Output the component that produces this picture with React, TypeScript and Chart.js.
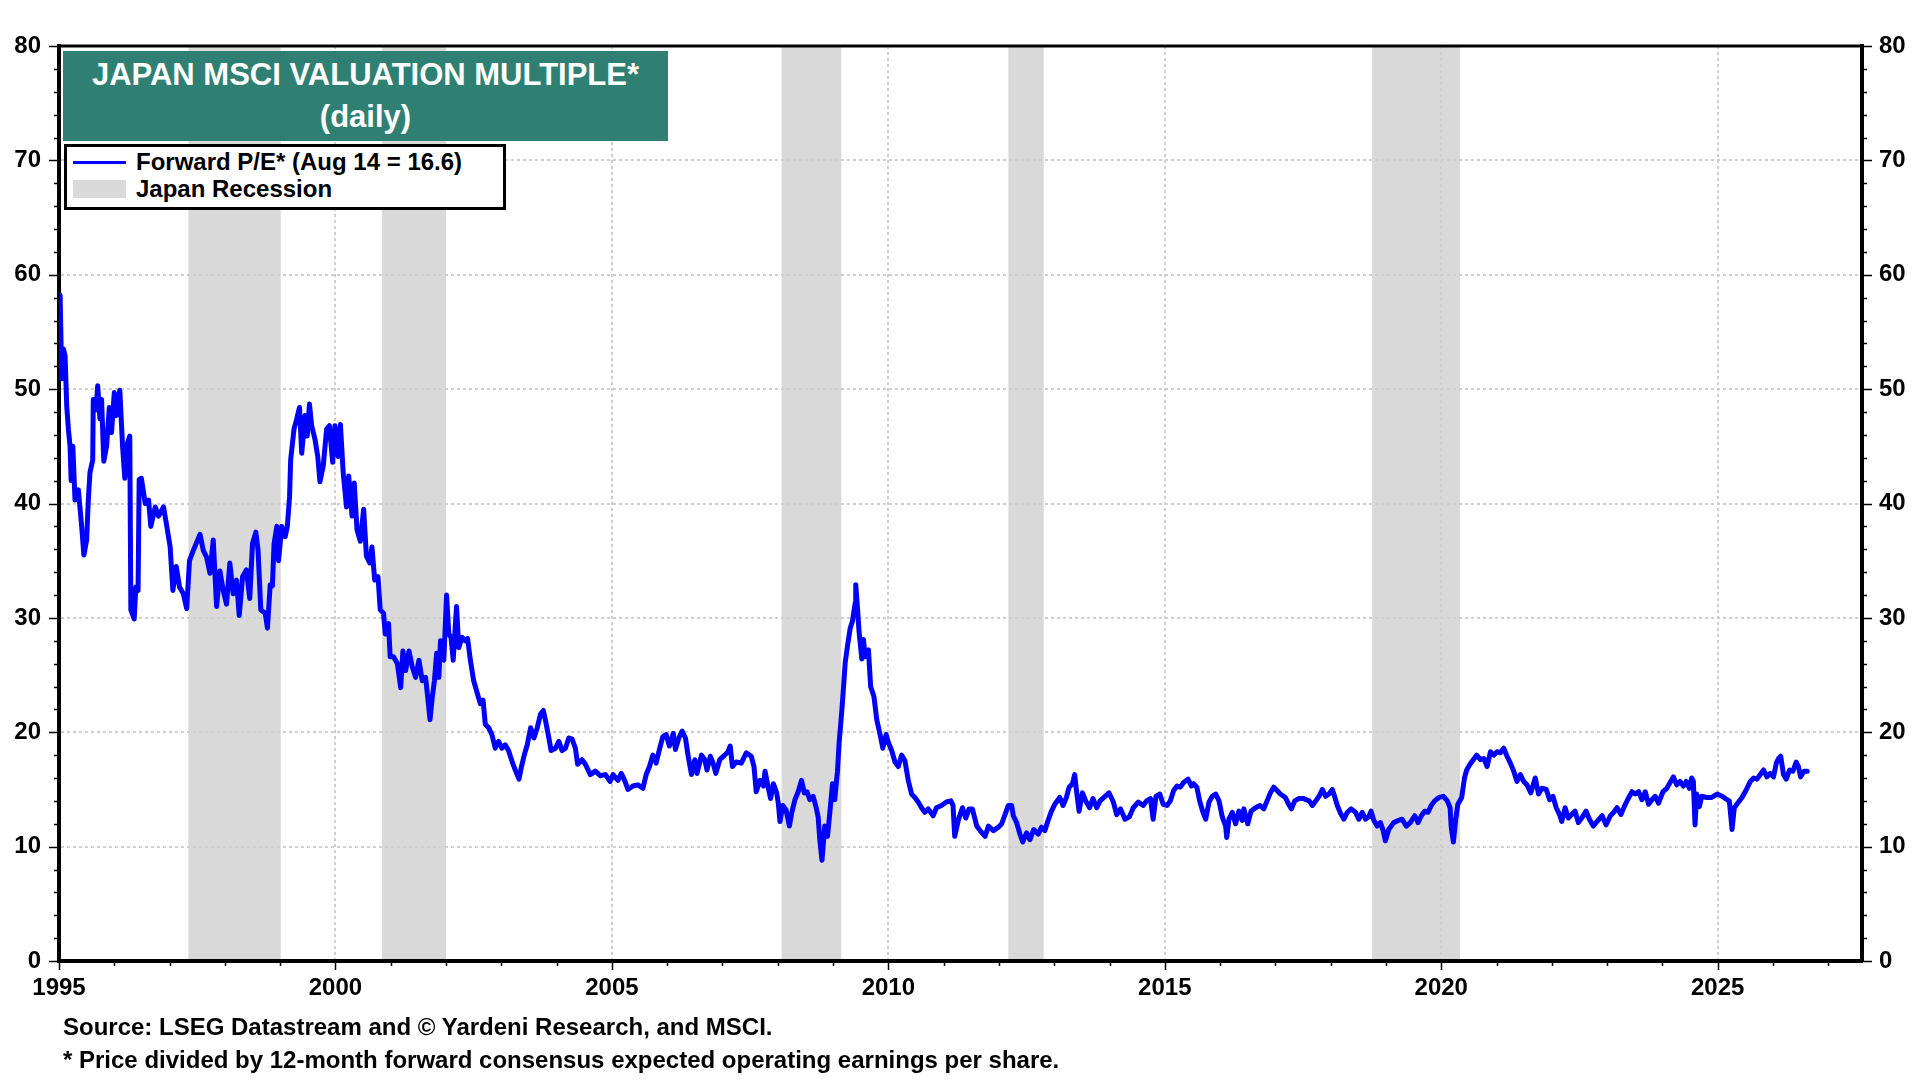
import React, { useEffect, useRef } from "react";
import { Chart, registerables } from "chart.js";

Chart.register(...registerables);

// ---- Data (decimal year, forward P/E) ----
const dates: number[] = [
  // 1995 - 2000
  1995.02, 1995.05, 1995.08, 1995.11, 1995.14, 1995.17, 1995.20, 1995.22, 1995.25, 1995.29,
  1995.35, 1995.41, 1995.45, 1995.50, 1995.53, 1995.56, 1995.61, 1995.62, 1995.67, 1995.70,
  1995.74, 1995.77, 1995.81, 1995.86, 1995.91, 1995.95, 1996.00, 1996.04, 1996.10, 1996.15,
  1996.19, 1996.24, 1996.28, 1996.30, 1996.36, 1996.39, 1996.43, 1996.45, 1996.49, 1996.56,
  1996.62, 1996.66, 1996.74, 1996.80, 1996.89, 1996.95, 1997.01, 1997.06, 1997.12, 1997.18,
  1997.25, 1997.31, 1997.36, 1997.43, 1997.55, 1997.61, 1997.67, 1997.73, 1997.79, 1997.85,
  1997.91, 1997.97, 1998.03, 1998.09, 1998.15, 1998.21, 1998.26, 1998.32, 1998.39, 1998.45,
  1998.50, 1998.56, 1998.60, 1998.65, 1998.73, 1998.77, 1998.82, 1998.86, 1998.89, 1998.94,
  1998.97, 1999.03, 1999.09, 1999.13, 1999.17, 1999.19, 1999.25, 1999.30, 1999.35, 1999.39,
  1999.45, 1999.49, 1999.53, 1999.57, 1999.63, 1999.68, 1999.72, 1999.78, 1999.84, 1999.89,
  1999.95, 1999.99, 2000.05, 2000.09, 2000.14,
  // 2000 - 2005
  2000.20, 2000.24, 2000.30, 2000.34, 2000.39, 2000.45, 2000.51, 2000.56, 2000.62, 2000.66,
  2000.71, 2000.77, 2000.81, 2000.87, 2000.90, 2000.96, 2000.99, 2001.05, 2001.12, 2001.18,
  2001.22, 2001.27, 2001.33, 2001.39, 2001.45, 2001.51, 2001.57, 2001.63, 2001.67, 2001.71,
  2001.75, 2001.79, 2001.83, 2001.87, 2001.90, 2001.96, 2002.01, 2002.05, 2002.09, 2002.13,
  2002.19, 2002.23, 2002.29, 2002.35, 2002.39, 2002.44, 2002.50, 2002.56, 2002.62, 2002.67,
  2002.71, 2002.77, 2002.83, 2002.89, 2002.95, 2003.01, 2003.07, 2003.13, 2003.19, 2003.26,
  2003.32, 2003.36, 2003.42, 2003.47, 2003.53, 2003.59, 2003.65, 2003.71, 2003.76, 2003.80,
  2003.86, 2003.90, 2003.98, 2004.04, 2004.10, 2004.16, 2004.22, 2004.28, 2004.34, 2004.38,
  2004.46, 2004.52, 2004.61, 2004.70, 2004.79, 2004.88, 2004.97,
  // 2005 - 2010
  2005.02, 2005.11, 2005.17, 2005.23, 2005.29, 2005.38, 2005.47, 2005.56, 2005.62, 2005.68,
  2005.74, 2005.80, 2005.86, 2005.92, 2005.98, 2006.04, 2006.11, 2006.15, 2006.21, 2006.27,
  2006.33, 2006.38, 2006.44, 2006.50, 2006.54, 2006.62, 2006.68, 2006.72, 2006.78, 2006.83,
  2006.88, 2006.95, 2007.04, 2007.10, 2007.14, 2007.18, 2007.25, 2007.34, 2007.43, 2007.52,
  2007.57, 2007.61, 2007.68, 2007.74, 2007.77, 2007.83, 2007.87, 2007.92, 2007.98, 2008.01,
  2008.04, 2008.09, 2008.15, 2008.21, 2008.25, 2008.31, 2008.37, 2008.43, 2008.48, 2008.53,
  2008.58, 2008.64, 2008.69, 2008.73, 2008.76, 2008.80, 2008.85, 2008.90, 2008.94, 2008.99,
  2009.03, 2009.08, 2009.11, 2009.14, 2009.17, 2009.22, 2009.26, 2009.31, 2009.35, 2009.40,
  2009.41, 2009.44, 2009.47, 2009.52, 2009.55, 2009.58, 2009.64, 2009.68, 2009.74, 2009.79,
  2009.85, 2009.90, 2009.96,
  // 2010 - 2015
  2010.00, 2010.06, 2010.12, 2010.18, 2010.24, 2010.30, 2010.36, 2010.42, 2010.48, 2010.54,
  2010.60, 2010.66, 2010.72, 2010.81, 2010.87, 2010.96, 2011.05, 2011.13, 2011.17, 2011.20,
  2011.27, 2011.34, 2011.40, 2011.46, 2011.52, 2011.60, 2011.66, 2011.75, 2011.81, 2011.90,
  2011.99, 2012.05, 2012.11, 2012.17, 2012.23, 2012.26, 2012.32, 2012.38, 2012.43, 2012.50,
  2012.56, 2012.63, 2012.71, 2012.77, 2012.83, 2012.89, 2012.95, 2013.01, 2013.10, 2013.16,
  2013.22, 2013.27, 2013.33, 2013.37, 2013.40, 2013.45, 2013.51, 2013.57, 2013.64, 2013.70,
  2013.77, 2013.83, 2013.92, 2013.99, 2014.07, 2014.13, 2014.20, 2014.28, 2014.36, 2014.43,
  2014.52, 2014.61, 2014.67, 2014.74, 2014.79, 2014.84, 2014.91, 2014.97,
  // 2015 - 2020
  2015.04, 2015.10, 2015.16, 2015.22, 2015.28, 2015.34, 2015.42, 2015.48, 2015.52, 2015.58,
  2015.63, 2015.69, 2015.74, 2015.80, 2015.86, 2015.92, 2015.98, 2016.04, 2016.10, 2016.12,
  2016.16, 2016.22, 2016.28, 2016.34, 2016.40, 2016.43, 2016.50, 2016.56, 2016.64, 2016.72,
  2016.79, 2016.85, 2016.91, 2016.97, 2017.03, 2017.09, 2017.18, 2017.24, 2017.29, 2017.35,
  2017.42, 2017.51, 2017.61, 2017.67, 2017.73, 2017.79, 2017.85, 2017.91, 2017.97, 2018.03,
  2018.07, 2018.12, 2018.18, 2018.24, 2018.30, 2018.37, 2018.45, 2018.51, 2018.57, 2018.63,
  2018.69, 2018.73, 2018.78, 2018.84, 2018.90, 2018.95, 2018.99, 2019.05, 2019.14, 2019.23,
  2019.29, 2019.37, 2019.44, 2019.52, 2019.58, 2019.64, 2019.70, 2019.76, 2019.82, 2019.88,
  2019.96, 2020.04, 2020.11, 2020.16, 2020.18, 2020.22, 2020.26, 2020.30,
  // 2020 - 2026
  2020.37, 2020.42, 2020.46, 2020.52, 2020.58, 2020.64, 2020.71, 2020.77, 2020.83, 2020.89,
  2020.95, 2021.01, 2021.07, 2021.13, 2021.19, 2021.25, 2021.31, 2021.37, 2021.43, 2021.49,
  2021.55, 2021.62, 2021.70, 2021.76, 2021.82, 2021.90, 2021.96, 2022.02, 2022.08, 2022.14,
  2022.18, 2022.24, 2022.30, 2022.36, 2022.42, 2022.48, 2022.54, 2022.62, 2022.68, 2022.75,
  2022.82, 2022.91, 2022.98, 2023.06, 2023.12, 2023.18, 2023.25, 2023.31, 2023.37, 2023.45,
  2023.51, 2023.57, 2023.63, 2023.69, 2023.75, 2023.81, 2023.87, 2023.93, 2024.01, 2024.08,
  2024.14, 2024.20, 2024.26, 2024.32, 2024.38, 2024.43, 2024.49, 2024.53, 2024.56, 2024.59,
  2024.62, 2024.67, 2024.71, 2024.80, 2024.89, 2024.99, 2025.08, 2025.17, 2025.21, 2025.26,
  2025.30, 2025.36, 2025.44, 2025.52, 2025.59, 2025.65, 2025.71, 2025.77, 2025.83, 2025.89,
  2025.95, 2026.01, 2026.06, 2026.10, 2026.14, 2026.19, 2026.24, 2026.30, 2026.36, 2026.42,
  2026.46, 2026.50, 2026.56, 2026.62,
];

const forwardPE: number[] = [
  // 1995 - 2000
  58.2, 50.9, 53.5, 52.9, 48.5, 46.5, 45.0, 42.0, 45.0, 40.3,
  41.2, 38.0, 35.5, 36.8, 40.3, 42.7, 43.8, 49.1, 48.2, 50.3,
  47.4, 49.1, 43.7, 45.0, 48.4, 46.2, 49.7, 47.7, 49.9, 45.0,
  42.2, 45.3, 45.9, 30.7, 29.9, 32.7, 32.4, 42.1, 42.2, 40.0,
  40.3, 38.0, 39.7, 38.9, 39.7, 38.0, 36.2, 32.4, 34.5, 32.7,
  32.1, 30.8, 35.0, 35.9, 37.3, 35.9, 35.3, 33.9, 36.8, 31.0,
  34.1, 32.4, 31.2, 34.8, 32.1, 33.3, 30.2, 33.6, 34.2, 31.7,
  36.5, 37.5, 35.9, 30.7, 30.4, 29.1, 32.9, 32.8, 36.5, 38.0,
  35.0, 38.0, 37.1, 38.0, 40.6, 43.8, 46.5, 47.4, 48.4, 44.4,
  47.7, 45.9, 48.7, 46.8, 45.6, 44.1, 41.9, 43.3, 46.5, 46.8,
  43.6, 46.8, 44.1, 46.9, 42.7,
  // 2000 - 2005
  39.7, 42.4, 38.9, 41.8, 37.7, 36.7, 39.5, 35.4, 34.8, 36.2,
  33.3, 33.6, 30.7, 30.4, 28.6, 29.5, 26.6, 26.6, 26.0, 23.9,
  27.1, 25.4, 27.1, 25.7, 24.8, 26.3, 24.5, 24.8, 23.0, 21.1,
  23.0, 24.5, 26.9, 24.8, 28.0, 26.3, 32.0, 28.6, 28.3, 26.3,
  31.0, 27.4, 28.3, 28.0, 28.2, 26.3, 24.5, 23.5, 22.5, 22.8,
  20.7, 20.4, 19.8, 18.6, 19.2, 18.6, 18.9, 18.4, 17.5, 16.6,
  15.9, 16.9, 18.1, 18.9, 20.4, 19.5, 20.4, 21.6, 21.9, 21.0,
  19.5, 18.4, 18.6, 19.2, 18.4, 18.6, 19.5, 19.4, 18.6, 17.2,
  17.6, 17.2, 16.3, 16.6, 16.2, 16.3, 15.7,
  // 2005 - 2010
  16.3, 15.8, 16.4, 15.8, 15.0, 15.3, 15.4, 15.1, 16.3, 17.0,
  18.0, 17.3, 18.5, 19.6, 19.8, 18.8, 19.9, 18.5, 19.5, 20.1,
  19.5, 17.9, 16.3, 17.6, 16.4, 18.0, 17.6, 16.7, 17.9, 17.3,
  16.4, 17.6, 18.0, 18.3, 18.8, 17.0, 17.4, 17.3, 18.2, 17.9,
  17.0, 14.8, 15.8, 15.3, 16.6, 15.1, 14.2, 15.5, 14.7, 13.8,
  12.2, 13.6, 13.2, 11.8, 12.9, 14.1, 14.8, 15.8, 14.7, 14.8,
  14.1, 14.4, 13.5, 12.6, 10.6, 8.8, 11.8, 10.9, 12.9, 15.5,
  14.1, 16.6, 19.1, 20.8, 22.6, 26.1, 27.5, 29.1, 29.7, 31.3,
  32.9, 31.0, 28.8, 26.4, 28.1, 26.6, 27.2, 24.0, 23.1, 21.1,
  19.8, 18.6, 19.8,
  // 2010 - 2015
  19.1, 18.4, 17.4, 17.0, 18.0, 17.5, 15.8, 14.6, 14.3, 13.9,
  13.4, 13.0, 13.3, 12.7, 13.4, 13.6, 13.9, 14.0, 13.6, 10.9,
  12.4, 13.4, 12.5, 13.3, 13.3, 11.8, 11.4, 10.9, 11.8, 11.4,
  11.7, 12.0, 12.8, 13.6, 13.6, 12.7, 12.1, 11.1, 10.4, 11.2,
  10.6, 11.5, 11.1, 11.7, 11.4, 12.3, 13.1, 13.7, 14.3, 13.6,
  14.3, 15.2, 15.5, 16.3, 15.0, 13.1, 14.7, 14.0, 13.4, 14.2,
  13.4, 14.0, 14.4, 14.7, 13.9, 12.8, 13.3, 12.4, 12.6, 13.4,
  13.9, 13.6, 14.0, 14.2, 12.4, 14.4, 14.6, 13.7,
  // 2015 - 2020
  13.6, 14.0, 14.9, 15.3, 15.2, 15.6, 15.9, 15.3, 15.5, 15.2,
  14.0, 13.0, 12.4, 13.9, 14.4, 14.6, 14.0, 12.6, 11.8, 10.8,
  12.4, 13.0, 12.0, 13.1, 12.3, 13.3, 12.0, 13.1, 13.4, 13.6,
  13.3, 14.0, 14.7, 15.2, 14.9, 14.6, 14.3, 13.7, 13.3, 14.0,
  14.2, 14.2, 14.0, 13.6, 14.0, 14.4, 15.0, 14.4, 14.6, 15.0,
  14.4, 13.6, 12.9, 12.4, 13.0, 13.3, 13.0, 12.4, 13.0, 12.4,
  12.6, 13.1, 12.3, 11.8, 12.1, 11.4, 10.5, 11.5, 12.1, 12.3,
  12.4, 11.8, 12.1, 12.7, 12.1, 12.7, 13.1, 13.0, 13.6, 14.0,
  14.3, 14.4, 14.0, 13.4, 11.7, 10.4, 12.3, 13.7,
  // 2020 - 2026
  14.3, 16.0, 16.7, 17.2, 17.6, 18.0, 17.6, 17.7, 17.0, 18.3,
  18.0, 18.3, 18.2, 18.6, 17.9, 17.3, 16.6, 15.7, 16.3, 15.7,
  15.4, 14.7, 16.0, 14.6, 15.1, 15.0, 14.1, 14.4, 13.4, 12.8,
  12.2, 13.4, 12.5, 12.8, 13.1, 12.1, 12.5, 13.1, 12.4, 11.8,
  12.2, 12.7, 11.9, 12.7, 13.0, 13.4, 12.8, 13.5, 14.1, 14.8,
  14.6, 14.8, 14.1, 14.8, 13.7, 14.1, 14.4, 13.8, 14.8, 15.1,
  15.6, 16.1, 15.4, 15.7, 15.3, 15.7, 15.1, 16.0, 15.7, 11.9,
  14.6, 13.5, 14.4, 14.3, 14.3, 14.6, 14.4, 14.1, 14.0, 11.5,
  13.4, 13.8, 14.3, 15.0, 15.7, 16.0, 15.9, 16.3, 16.7, 16.1,
  16.4, 16.1, 17.3, 17.7, 17.9, 16.3, 15.9, 16.7, 16.6, 17.4,
  17.0, 16.1, 16.6, 16.6,
];

const recessionStart: number[] = [1997.34, 2000.84, 2008.07, 2012.17, 2018.75];
const recessionEnd: number[] = [1999.01, 2002.0, 2009.15, 2012.81, 2020.34];

const xMin = 1995;
const xMax = 2027.61;
const xLabelTicks: number[] = [1995, 2000, 2005, 2010, 2015, 2020, 2025];
const yMin = 0;
const yMax = 80;
const yStep = 10;
const yMinorStep = 2;

const titleLines: string[] = ["JAPAN MSCI VALUATION MULTIPLE*", "(daily)"];
const legendLabels: string[] = ["Forward P/E* (Aug 14 = 16.6)", "Japan Recession"];
const footnotes: string[] = [
  "Source: LSEG Datastream and \u00A9 Yardeni Research, and MSCI.",
  "* Price divided by 12-month forward consensus expected operating earnings per share.",
];

const FONT = '"Liberation Sans", Arial, Helvetica, sans-serif';
const LINE_BLUE = "#0000ff";
const BAND_GREY = "#d9d9d9";
const TEAL = "#2f7f72";

const bandsPlugin = {
  id: "recessionBands",
  beforeDraw(chart: any) {
    const { ctx, chartArea, scales } = chart;
    ctx.save();
    ctx.fillStyle = "#ffffff";
    ctx.fillRect(0, 0, chart.width, chart.height);
    ctx.fillStyle = BAND_GREY;
    recessionStart.forEach((s, i) => {
      const x1 = scales.x.getPixelForValue(s);
      const x2 = scales.x.getPixelForValue(recessionEnd[i]);
      ctx.fillRect(x1, chartArea.top, x2 - x1, chartArea.bottom - chartArea.top);
    });
    ctx.restore();
  },
};

const framePlugin = {
  id: "frameTicks",
  afterDraw(chart: any) {
    const { ctx, chartArea, scales } = chart;
    const { left, right, top, bottom } = chartArea;
    ctx.save();
    ctx.strokeStyle = "#000";
    ctx.lineWidth = 3;
    ctx.beginPath();
    ctx.moveTo(left - 2, top);
    ctx.lineTo(right + 2, top);
    ctx.stroke();

    ctx.lineWidth = 1.5;
    ctx.beginPath();
    for (let v = yMin; v <= yMax; v += yMinorStep) {
      const y = Math.round(scales.y.getPixelForValue(v)) + 0.5;
      const len = v % yStep === 0 ? 10 : 5;
      ctx.moveTo(left - len, y);
      ctx.lineTo(left, y);
      ctx.moveTo(right, y);
      ctx.lineTo(right + len, y);
    }
    for (let yr = Math.ceil(xMin); yr <= Math.floor(xMax); yr++) {
      const x = Math.round(scales.x.getPixelForValue(yr)) + 0.5;
      const len = yr % 5 === 0 ? 9 : 5;
      ctx.moveTo(x, bottom);
      ctx.lineTo(x, bottom + len);
    }
    ctx.stroke();
    ctx.restore();
  },
};

export default function App() {
  const canvasRef = useRef<HTMLCanvasElement | null>(null);

  useEffect(() => {
    document.body.style.margin = "0";
    const canvas = canvasRef.current;
    if (!canvas) return;
    const points = dates.map((d, i) => ({ x: d, y: forwardPE[i] }));
    const tickFont = { family: FONT, size: 24, weight: "bold" as const };

    const chart = new Chart(canvas, {
      type: "line",
      data: {
        datasets: [
          {
            label: legendLabels[0],
            data: points,
            borderColor: LINE_BLUE,
            borderWidth: 5,
            pointRadius: 0,
            tension: 0,
            borderJoinStyle: "round",
            borderCapStyle: "round",
            fill: false,
          },
        ],
      },
      options: {
        responsive: false,
        animation: false,
        devicePixelRatio: 1,
        layout: { padding: { top: 46, left: 0, right: 0, bottom: 0 } },
        plugins: {
          legend: { display: false },
          tooltip: { enabled: false },
          title: { display: false },
        },
        scales: {
          x: {
            type: "linear",
            position: "bottom",
            min: xMin,
            max: xMax,
            afterBuildTicks: (scale: any) => {
              scale.ticks = xLabelTicks.map((v) => ({ value: v }));
            },
            afterFit: (scale: any) => {
              scale.height = 1080 - 961;
            },
            ticks: {
              autoSkip: false,
              maxRotation: 0,
              padding: 13,
              color: "#000",
              font: tickFont,
              callback: (v: any) => String(v),
            },
            grid: {
              color: "#cfcfcf",
              lineWidth: 2,
              drawTicks: false,
            },
            border: { display: true, color: "#000", width: 4, dash: [3, 3] },
          },
          y: {
            type: "linear",
            position: "left",
            min: yMin,
            max: yMax,
            afterFit: (scale: any) => {
              scale.width = 59;
            },
            ticks: {
              stepSize: yStep,
              padding: 18,
              color: "#000",
              font: tickFont,
            },
            grid: {
              color: "#cfcfcf",
              lineWidth: 2,
              drawTicks: false,
            },
            border: { display: true, color: "#000", width: 4, dash: [3, 3] },
          },
          y2: {
            type: "linear",
            position: "right",
            min: yMin,
            max: yMax,
            afterFit: (scale: any) => {
              scale.width = 1920 - 1862;
            },
            ticks: {
              stepSize: yStep,
              padding: 17,
              color: "#000",
              font: tickFont,
            },
            grid: { drawOnChartArea: false, drawTicks: false },
            border: { display: true, color: "#000", width: 4 },
          },
        },
      },
      plugins: [bandsPlugin, framePlugin],
    });
    return () => chart.destroy();
  }, []);

  return (
    <div
      style={{
        position: "fixed",
        left: 0,
        top: 0,
        width: 1920,
        height: 1080,
        background: "#fff",
        fontFamily: FONT,
        fontWeight: "bold",
        overflow: "hidden",
      }}
    >
      <canvas
        ref={canvasRef}
        width={1920}
        height={1080}
        style={{ position: "absolute", left: 0, top: 0, width: 1920, height: 1080 }}
      />
      <div
        style={{
          position: "absolute",
          left: 63,
          top: 51,
          width: 605,
          height: 90,
          background: TEAL,
          color: "#fff",
          fontSize: 31,
        }}
      >
        <div style={{ position: "absolute", left: 0, top: 4, width: 605, height: 40, lineHeight: "40px", textAlign: "center", whiteSpace: "nowrap" }}>
          {titleLines[0]}
        </div>
        <div style={{ position: "absolute", left: 0, top: 46, width: 605, height: 40, lineHeight: "40px", textAlign: "center", whiteSpace: "nowrap" }}>
          {titleLines[1]}
        </div>
      </div>
      <div
        style={{
          position: "absolute",
          left: 64,
          top: 144,
          width: 442,
          height: 66,
          border: "3px solid #000",
          background: "#fff",
          boxSizing: "border-box",
          color: "#000",
          fontSize: 24,
        }}
      >
        <div style={{ position: "absolute", left: 6, top: 1, height: 28, width: 430 }}>
          <div style={{ position: "absolute", left: 0, top: 13, width: 53, height: 3, background: LINE_BLUE }} />
          <div style={{ position: "absolute", left: 63, top: 0, lineHeight: "28px", whiteSpace: "nowrap" }}>
            {legendLabels[0]}
          </div>
        </div>
        <div style={{ position: "absolute", left: 6, top: 28, height: 28, width: 430 }}>
          <div style={{ position: "absolute", left: 0, top: 5, width: 53, height: 18, background: BAND_GREY }} />
          <div style={{ position: "absolute", left: 63, top: 0, lineHeight: "28px", whiteSpace: "nowrap" }}>
            {legendLabels[1]}
          </div>
        </div>
      </div>
      {footnotes.map((f, i) => (
        <div
          key={f}
          style={{
            position: "absolute",
            left: 63,
            top: 1013 + i * 33,
            fontSize: 24,
            lineHeight: "28px",
            color: "#000",
            whiteSpace: "nowrap",
          }}
        >
          {f}
        </div>
      ))}
    </div>
  );
}
